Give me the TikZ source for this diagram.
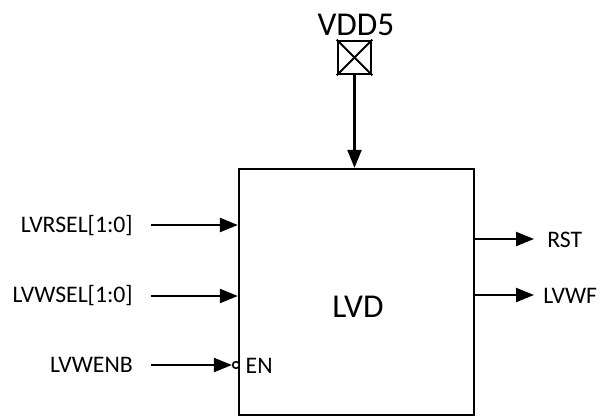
\documentclass[tikz,border=0pt]{standalone}
\usepackage{fontspec}
\setmainfont{Carlito}
\usetikzlibrary{positioning,arrows.meta}

\begin{document}
\begin{tikzpicture}[x=0.75pt,y=-0.75pt]
	\tikzstyle{block} = [rectangle, draw, line width=1.7pt, inner sep=0pt, minimum width=176.25pt, minimum height=184.5pt];
	\tikzstyle{pad} = [rectangle, draw, line width=1.7pt, inner sep=0pt, minimum size=25pt];
	\tikzstyle{bubble} = [circle, draw, line width=1.2pt, fill=white, inner sep=0pt, minimum size=5pt];
	\tikzstyle{sig} = [line width=1.7pt, -{Triangle[length=13.5pt,width=10.5pt]}];
	\tikzstyle{lab} = [inner sep=0pt, font=\fontsize{17.8}{20}\selectfont];
	\tikzstyle{big} = [inner sep=0pt, font=\fontsize{25}{28}\selectfont];
	\useasboundingbox (0,0) rectangle (600,418);
	
	\node[block] (LVD) at (356.5,292) {};
	\node[big] (LVDname) at (358,307) {LVD};
	
	\node[pad] (VDD) at (354.5,57.5) {};
	\draw[line width=1.4pt] (VDD.north west) -- (VDD.south east);
	\draw[line width=1.4pt] (VDD.north east) -- (VDD.south west);
	\node[big] (VDDname) at (356,25) {VDD5};
	\draw[sig] (VDD) -- (VDD |- LVD.north);
	
	\node[lab, anchor=east] (LVRSEL) at (133,226) {LVRSEL[1:0]};
	\node[lab, anchor=east] (LVWSEL) at (133,296) {LVWSEL[1:0]};
	\node[lab, anchor=east] (LVWENB) at (133,365) {LVWENB};
	\coordinate (A1) at (151,225);
	\coordinate (A2) at (151,296);
	\coordinate (A3) at (151,365);
	\draw[sig] (A1) -- (A1 -| LVD.west);
	\draw[sig] (A2) -- (A2 -| LVD.west);
	
	\node[bubble] (ENB) at (236,365) {};
	\draw[sig] (A3) -- (ENB);
	\node[lab] (EN) [right=4pt of ENB, yshift=-1pt] {EN};
	
	\node[lab, anchor=west] (RST) at (547,240) {RST};
	\node[lab, anchor=west] (LVWF) at (543,296) {LVWF};
	\coordinate (B1) at (534,239);
	\coordinate (B2) at (534,295);
	\draw[sig] (B1 -| LVD.east) -- (B1);
	\draw[sig] (B2 -| LVD.east) -- (B2);
\end{tikzpicture}
\end{document}
